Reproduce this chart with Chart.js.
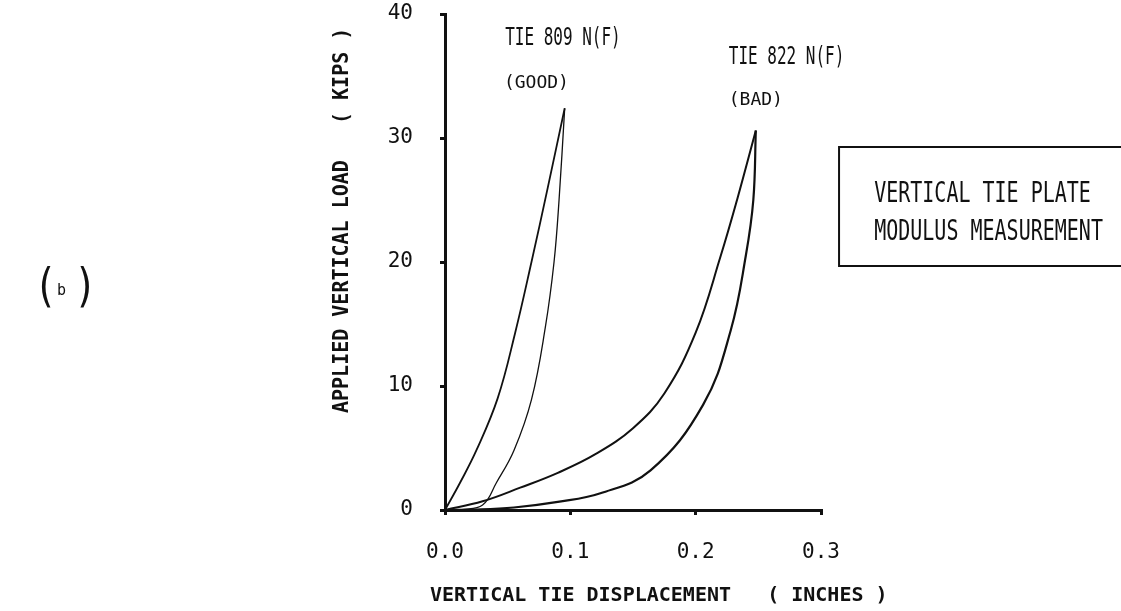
<!DOCTYPE html>
<html>
<head>
<meta charset="utf-8">
<script src="https://cdn.jsdelivr.net/npm/chart.js@4.4.1/dist/chart.umd.min.js"></script>
<style>
  html, body { margin: 0; padding: 0; background: #fff; }
  canvas { display: block; }
</style>
</head>
<body>
<canvas id="c" width="1121" height="611"></canvas>
<script>
// ── data (inches / kips) ──
const goodLoadX   = [0, 0.012, 0.025, 0.042, 0.056, 0.069, 0.082, 0.0955];
const goodLoadY   = [0, 2.2, 4.8, 9.0, 14.3, 20.0, 26.0, 32.4];
const goodUnloadX = [0.0955, 0.091, 0.087, 0.080, 0.069, 0.055, 0.041, 0.030, 0.012];
const goodUnloadY = [32.4, 25.0, 20.0, 14.7, 8.9, 4.8, 2.2, 0.4, 0];
const badLoadX    = [0, 0.030, 0.060, 0.090, 0.120, 0.150, 0.175, 0.200, 0.220, 0.233, 0.248];
const badLoadY    = [0, 0.7, 1.8, 3.0, 4.5, 6.6, 9.4, 14.3, 20.5, 25.0, 30.6];
const badUnloadX  = [0.248, 0.246, 0.240, 0.228, 0.206, 0.164, 0.124, 0.090, 0.055, 0.025, 0];
const badUnloadY  = [30.6, 25.0, 20.5, 14.5, 8.5, 3.2, 1.35, 0.65, 0.2, 0.03, 0];

const xTicks      = [0, 0.1, 0.2, 0.3];
const xTickLabels = ['0.0', '0.1', '0.2', '0.3'];
const yTicks      = [0, 10, 20, 30, 40];
const yTickLabels = ['0', '10', '20', '30', '40'];

const xTitle = 'VERTICAL TIE DISPLACEMENT   ( INCHES )';
const yTitle = 'APPLIED VERTICAL LOAD   ( KIPS )';
const boxLines = ['VERTICAL TIE PLATE', 'MODULUS MEASUREMENT'];

const INK = '#111';
const MONO = '"DejaVu Sans Mono", "Liberation Mono", monospace';

function pts(xs, ys) { return xs.map((x, i) => ({ x, y: ys[i] })); }

function curve(xs, ys, w) {
    return {
        data: pts(xs, ys),
        showLine: true,
        borderColor: INK,
        borderWidth: w,
        pointRadius: 0,
        tension: 0.4,
        fill: false
    };
}

// draws text with a vertical stretch (typewriter-ish look)
function txt(ctx, s, x, y, size, sy, weight, align) {
    ctx.save();
    ctx.translate(x, y);
    ctx.scale(1, sy);
    ctx.font = (weight || 'normal') + ' ' + size + 'px ' + MONO;
    ctx.textAlign = align || 'left';
    ctx.textBaseline = 'middle';
    ctx.fillStyle = INK;
    ctx.fillText(s, 0, 0);
    ctx.restore();
}

const notes = {
    id: 'notes',
    afterDraw(chart) {
        const { ctx, scales: { x, y } } = chart;
        const px = v => x.getPixelForValue(v), py = v => y.getPixelForValue(v);

        // curve labels
        txt(ctx, 'TIE 809 N(F)', px(0.048), py(38.0), 16, 1.5);
        txt(ctx, '(GOOD)',       px(0.047), py(34.4), 18, 1.0);
        txt(ctx, 'TIE 822 N(F)', px(0.2264), py(36.45), 16, 1.5);
        txt(ctx, '(BAD)',        px(0.2264), py(33.06), 18, 1.0);

        // legend-ish box on the right
        ctx.save();
        ctx.strokeStyle = INK;
        ctx.lineWidth = 2;
        const bl = px(0.3144), bt = py(29.27), bb = py(19.68);
        ctx.beginPath();
        ctx.moveTo(chart.width + 5, bt);
        ctx.lineTo(bl, bt);
        ctx.lineTo(bl, bb);
        ctx.lineTo(chart.width + 5, bb);
        ctx.stroke();
        ctx.restore();
        txt(ctx, boxLines[0], px(0.3424), py(25.4), 20, 1.4);
        txt(ctx, boxLines[1], px(0.3424), py(22.4), 20, 1.4);

        // axis titles
        txt(ctx, xTitle, 430, 596, 20, 0.95, 'bold');
        ctx.save();
        ctx.translate(342, 413);
        ctx.rotate(-Math.PI / 2);
        txt(ctx, yTitle, 0, 0, 20, 1.1, 'bold');
        ctx.restore();

        // panel tag (b)
        txt(ctx, '(', 34, 289, 38, 1.2, 'normal');
        txt(ctx, 'b', 57, 291, 15, 1.0, 'normal');
        txt(ctx, ')', 74, 289, 38, 1.2, 'normal');
    }
};

new Chart(document.getElementById('c'), {
    type: 'scatter',
    data: {
        datasets: [
            curve(goodLoadX, goodLoadY, 1.8),
            curve(goodUnloadX, goodUnloadY, 1.3),
            curve(badLoadX, badLoadY, 2),
            curve(badUnloadX, badUnloadY, 2.2)
        ]
    },
    options: {
        responsive: false,
        animation: false,
        layout: { padding: { left: 0, right: 300, top: 14, bottom: 0 } },
        plugins: { legend: { display: false }, tooltip: { enabled: false } },
        scales: {
            x: {
                type: 'linear', position: 'bottom', min: 0, max: 0.3,
                afterFit: s => { s.height = 101; s.paddingLeft = 0; s.paddingRight = 0; },
                afterBuildTicks: s => { s.ticks = xTicks.map(v => ({ value: v })); },
                border: { display: true, width: 3, color: INK },
                grid: { drawOnChartArea: false, drawTicks: true, tickLength: 5, lineWidth: 3, color: INK },
                ticks: {
                    padding: 25, color: INK, maxRotation: 0,
                    font: { family: MONO, size: 21 },
                    callback: v => xTickLabels[xTicks.indexOf(v)] ?? ''
                }
            },
            y: {
                type: 'linear', min: 0, max: 40,
                afterFit: s => { s.width = 445; s.paddingTop = 0; s.paddingBottom = 0; },
                afterBuildTicks: s => { s.ticks = yTicks.map(v => ({ value: v })); },
                border: { display: true, width: 3, color: INK },
                grid: { drawOnChartArea: false, drawTicks: true, tickLength: 5, lineWidth: 3, color: INK },
                ticks: {
                    padding: 27, color: INK,
                    font: { family: MONO, size: 21 },
                    callback: v => yTickLabels[yTicks.indexOf(v)] ?? ''
                }
            }
        }
    },
    plugins: [notes]
});
</script>
</body>
</html>
